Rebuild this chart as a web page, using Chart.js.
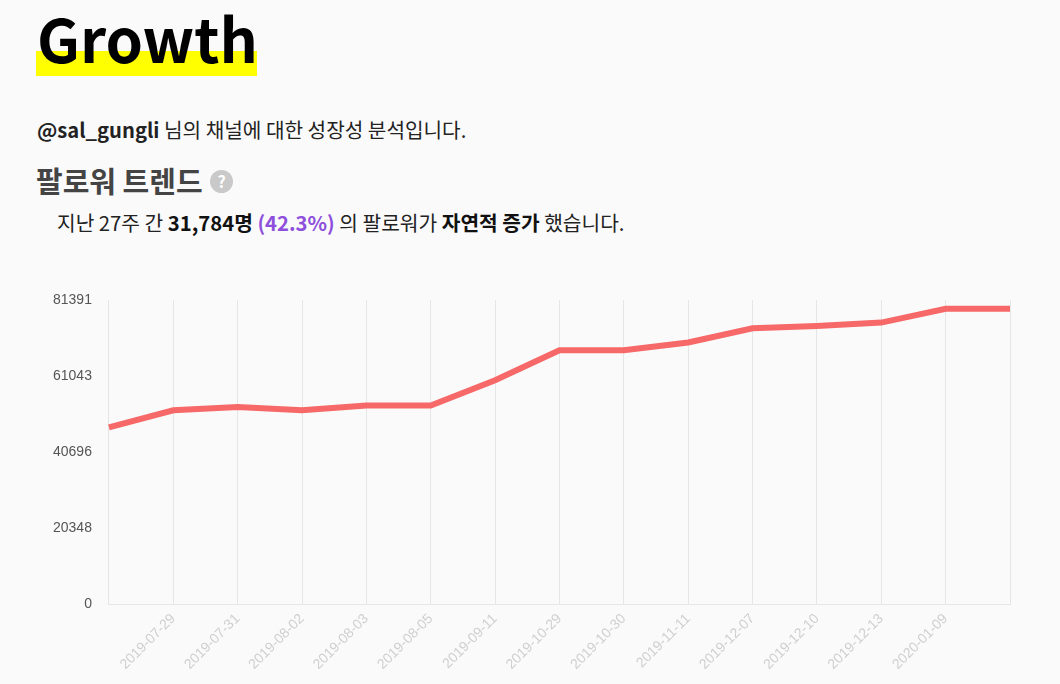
<!DOCTYPE html>
<html><head><meta charset="utf-8">
<script src="https://cdn.jsdelivr.net/npm/chart.js@4/dist/chart.umd.min.js"></script>
<style>
html,body{margin:0;padding:0;background:#fafafa;width:1060px;height:684px;overflow:hidden;font-family:"Noto Sans CJK KR","Noto Sans",sans-serif;}
.abs{position:absolute;white-space:nowrap;}
#title{left:37px;top:-3px;font-size:60px;font-weight:700;color:#000;line-height:80px;z-index:2;}
#hl{left:36px;top:51px;width:221px;height:25px;background:#ffff00;z-index:1;}
#sub{left:37px;top:115px;font-size:20.2px;line-height:30px;color:#222;}
#sec{left:36px;top:161px;font-size:29px;font-weight:700;line-height:38px;color:#444;}
#q{left:210px;top:170px;width:23px;height:23px;border-radius:50%;background:#c9c9c9;color:#fff;font-size:16px;font-weight:700;text-align:center;line-height:23px;}
#desc{left:57px;top:207px;font-size:20.3px;line-height:30px;color:#222;}
#desc b{color:#111;}
#desc .p{color:#8e4fdc;font-weight:700;}
#wrap{position:absolute;left:44px;top:277px;width:986px;height:402px;}
</style></head>
<body>
<div class="abs" id="hl"></div>
<div class="abs" id="title">Growth</div>
<div class="abs" id="sub"><b>@sal_gungli</b> 님의 채널에 대한 성장성 분석입니다.</div>
<div class="abs" id="sec">팔로워 트렌드</div>
<div class="abs" id="q">?</div>
<div class="abs" id="desc">지난 27주 간 <b>31,784명</b> <span class="p">(42.3%)</span> 의 팔로워가 <b>자연적 증가</b> 했습니다.</div>
<div id="wrap"><canvas id="c"></canvas></div>
<script>
const dateLabels = ['', '2019-07-29', '2019-07-31', '2019-08-02', '2019-08-03', '2019-08-05', '2019-09-11', '2019-10-29', '2019-10-30', '2019-11-11', '2019-12-07', '2019-12-10', '2019-12-13', '2020-01-09', ''];
const followers = [47320, 51900, 52800, 51900, 53200, 53200, 59950, 67950, 67950, 70030, 73820, 74440, 75360, 79020, 79020];
const yMax = 81391;
const yStep = yMax / 4;

new Chart(document.getElementById('c'), {
  type: 'line',
  data: {
    labels: dateLabels,
    datasets: [{
      data: followers,
      borderColor: 'rgb(247,104,104)',
      backgroundColor: 'rgb(247,104,104)',
      borderWidth: 6,
      pointRadius: 0,
      tension: 0,
      fill: false
    }]
  },
  options: {
    responsive: true,
    maintainAspectRatio: false,
    animation: false,
    layout: {padding: {right: 20, top: 23}},
    plugins: {legend: {display: false}, tooltip: {enabled: false}},
    scales: {
      x: {
        grid: {display: true, color: '#e6e6e6', drawTicks: false},
        border: {color: '#e6e6e6'},
        ticks: {color: '#cfcfcf', maxRotation: 45, minRotation: 45, autoSkip: false, padding: 6,
                font: {family: 'Liberation Sans, Arial, sans-serif', size: 14}}
      },
      y: {
        min: 0, max: yMax,
        afterBuildTicks: (axis) => { axis.ticks = [0,1,2,3,4].map(i => ({value: i * yStep})); },
        grid: {display: false},
        border: {display: false},
        ticks: {color: '#555', padding: 9,
                font: {family: 'Liberation Sans, Arial, sans-serif', size: 14},
                callback: (v) => String(Math.round(v))}
      }
    }
  }
});
</script>
</body></html>
